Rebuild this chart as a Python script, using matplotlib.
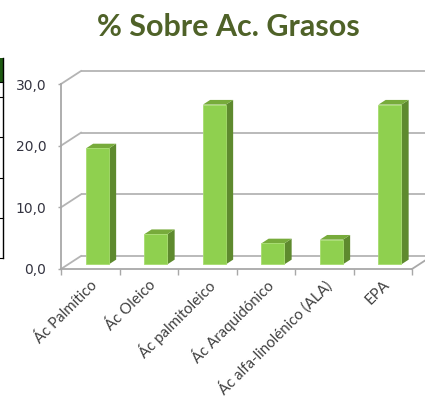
import matplotlib
matplotlib.use("Agg")
import matplotlib.pyplot as plt
from matplotlib.patches import Polygon, Rectangle
from matplotlib.transforms import ScaledTranslation

# ---- data ----
categories = ['Ác Palmítico', 'Ác Oleico', 'Ác palmitoleico', 'Ác Araquidónico',
              'Ác alfa-linolénico (ALA)', 'EPA']
values = [18.8, 4.9, 25.9, 3.4, 4.0, 25.9]
yticks = [0, 10, 20, 30]
ytick_labels = ['0,0', '10,0', '20,0', '30,0']
title = '% Sobre Ac. Grasos'

W, H = 425, 401
fig = plt.figure(figsize=(W / 100, H / 100), dpi=100)
fig.patch.set_facecolor('white')

# axes frame in pixels: x 61..412, y(0)=269 .. y(30)=84
L, R, B, T = 61, 412, 269, 84
ax = fig.add_axes([L / W, (H - B) / H, (R - L) / W, (B - T) / H])
n = len(categories)
ax.set_xlim(-0.5, n - 0.5)
ax.set_ylim(0, 30)
for s in ax.spines.values():
    s.set_visible(False)
ax.patch.set_visible(False)

px_x = (R - L) / n          # pixels per category
px_y = (B - T) / 30.0       # pixels per unit
DX = 20 / px_x              # full depth offset (data units)
DY = 13 / px_y

grid_c = '#B4B4B4'
axis_c = '#A8A8A8'
lw = 1.3

# back wall gridlines + left wall diagonals
for v in yticks:
    ax.plot([-0.5 + DX, n - 0.5 + DX + 1], [v + DY, v + DY], color=grid_c, lw=lw,
            clip_on=False, zorder=1, solid_capstyle='butt')
    ax.plot([-0.5, -0.5 + DX], [v, v + DY], color=grid_c, lw=lw, clip_on=False, zorder=1)
# floor front edge and right diagonal
ax.plot([-0.5, n - 0.5], [0, 0], color=axis_c, lw=lw, clip_on=False, zorder=2)
ax.plot([n - 0.5, n - 0.5 + DX], [0, DY], color=axis_c, lw=lw, clip_on=False, zorder=2)
# front value axis
ax.plot([-0.5, -0.5], [0, 30], color=axis_c, lw=lw, clip_on=False, zorder=2)

# bars (3D look)
front_c = '#8FD04F'
side_c = '#5E8A2E'
top_c = '#77AB3B'
w = 23 / px_x
fd = 0.36
bd = 0.36
ox, oy = fd * DX, fd * DY
bx, by = bd * DX, bd * DY
xs = list(range(n))
for x, v in zip(xs, values):
    xr = x + w / 2 + ox
    xl = x - w / 2 + ox
    side = Polygon([(xr, oy), (xr + bx, oy + by), (xr + bx, oy + by + v), (xr, oy + v)],
                   closed=True, facecolor=side_c, edgecolor='none', zorder=3, clip_on=False)
    top = Polygon([(xl, oy + v), (xr, oy + v), (xr + bx, oy + v + by), (xl + bx, oy + v + by)],
                  closed=True, facecolor=top_c, edgecolor='none', zorder=3, clip_on=False)
    ax.add_patch(side)
    ax.add_patch(top)
ax.bar([x + ox for x in xs], values, width=w, bottom=oy, color=front_c,
       edgecolor='#A6DC6E', linewidth=0.6, zorder=4, clip_on=False)

# y ticks
ax.set_yticks(yticks)
ax.set_yticklabels(ytick_labels, fontsize=10, color='#333340', family='DejaVu Sans')
ax.tick_params(axis='y', length=2.5, width=1.0, color=axis_c, pad=8)

# x ticks: labels at centers, marks at boundaries
ax.set_xticks(xs)
ax.set_xticks([i - 0.5 for i in range(n + 1)], minor=True)
ax.tick_params(axis='x', which='major', length=0, pad=10)
ax.tick_params(axis='x', which='minor', length=4, width=1.0, color=axis_c, direction='out')
ax.set_xticklabels(categories, rotation=45, ha='right', va='center', rotation_mode='anchor',
                   fontsize=10.8, color='#404040', family=['Lato', 'DejaVu Sans'])
off = ScaledTranslation(5 / 100, 0, fig.dpi_scale_trans)
for lab in ax.get_xticklabels():
    lab.set_transform(lab.get_transform() + off)

# title
fig.text(228 / W, 1 - 27 / H, title, ha='center', va='center', fontsize=22,
         fontweight='bold', color='#4F6228',
         family=['Lato', 'DejaVu Sans'])

# cropped fragment at left edge
def px_rect(x0, y0, x1, y1, **kw):
    fig.add_artist(Rectangle((x0 / W, 1 - y1 / H), (x1 - x0) / W, (y1 - y0) / H,
                             transform=fig.transFigure, **kw))

px_rect(0, 58, 2.5, 82, facecolor='#1E5A12', edgecolor='none')
fig.add_artist(plt.Line2D([2.5 / W, 2.5 / W], [1 - 58 / H, 1 - 258 / H],
                          transform=fig.transFigure, color='black', lw=1.0))
for yy in [82, 97, 137, 178, 218, 258]:
    fig.add_artist(plt.Line2D([0, 2.5 / W], [1 - yy / H, 1 - yy / H],
                              transform=fig.transFigure, color='black', lw=0.8))

fig.savefig('out.png', dpi=100, facecolor='white')
